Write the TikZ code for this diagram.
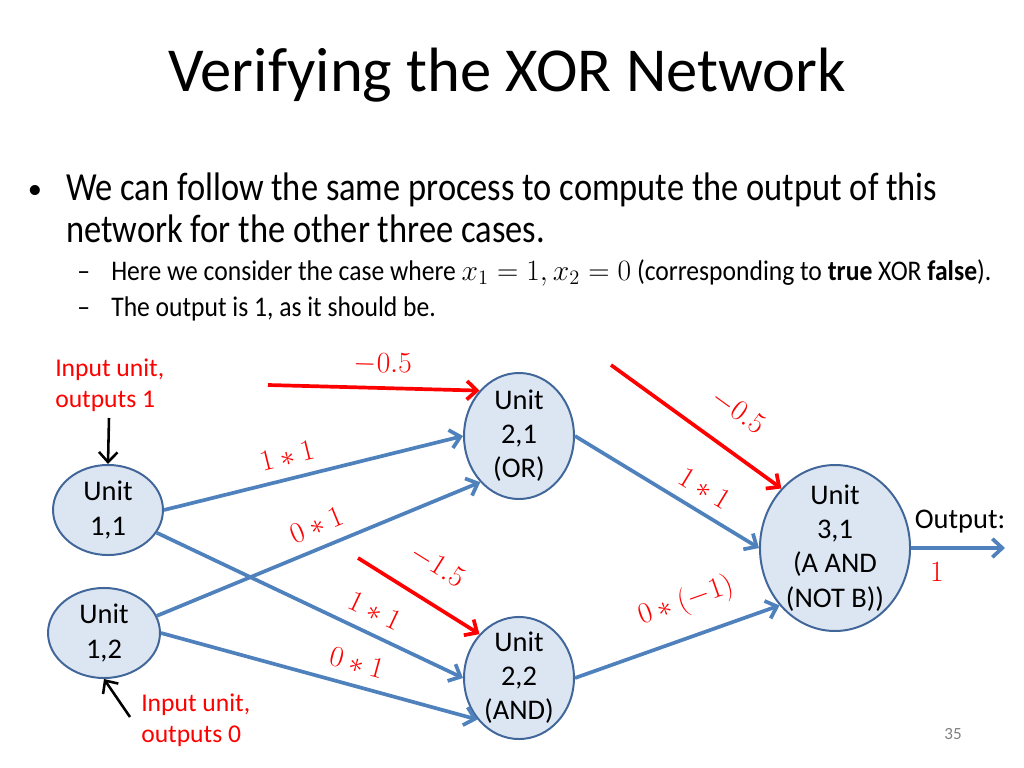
\documentclass[tikz,border=0pt]{standalone}
\usepackage{fontspec}
\setmainfont{Carlito}
\newfontfamily\bodyfont[FakeStretch=0.865]{Carlito}
\newfontfamily\subfont[FakeStretch=0.9]{Carlito}
\usetikzlibrary{arrows.meta,shapes.geometric}
\definecolor{lineblue}{HTML}{4F81BD}
\definecolor{unitfill}{HTML}{DCE6F2}
\definecolor{unitborder}{HTML}{41679A}
\begin{document}
\begin{tikzpicture}[x=0.703pt,y=-0.703pt,>={Straight Barb[length=7pt,width=13pt]},
	unit/.style={ellipse,draw=unitborder,line width=1.4pt,fill=unitfill,inner sep=-8pt,align=center,font=\fontsize{20}{24}\selectfont},
	conn/.style={->,lineblue,line width=2.6pt},
	bias/.style={->,red,line width=2.6pt},
	feed/.style={->,black,line width=1.8pt},
	wlabel/.style={red,sloped,above=6pt,inner sep=2pt,font=\fontsize{20}{24}\selectfont},
	note/.style={red,align=left,inner sep=0pt,font=\fontsize{18}{21.6}\selectfont},
	txt/.style={anchor=base west,inner sep=0pt}]
	\useasboundingbox (0,0) rectangle (1024,768);
	\node (title) at (507,75) {\fontsize{44}{52}\selectfont Verifying the XOR Network};
	\node[txt,anchor=base] (bul) at (35,198) {\fontsize{20}{24}\selectfont •};
	\node[txt] (b1) at (66,200) {\fontsize{28}{34}\bodyfont We can follow the same process to compute the output of this};
	\node[txt] (b2) at (66,242) {\fontsize{28}{34}\bodyfont network for the other three cases.};
	\node[txt] (d1) at (77,280) {\fontsize{20}{24}\subfont –};
	\node[txt] (s1) at (111,280) {\fontsize{20}{24}\subfont Here we consider the case where $x_1=1, x_2=0$ (corresponding to \textbf{true} XOR \textbf{false}).};
	\node[txt] (d2) at (77,316) {\fontsize{20}{24}\subfont –};
	\node[txt] (s2) at (111,316) {\fontsize{20}{24}\subfont The output is 1, as it should be.};

	\node[unit,minimum width=77.3pt,minimum height=63.3pt] (u11) at (108,510) {Unit\\1,1};
	\node[unit,minimum width=78.7pt,minimum height=63.3pt] (u12) at (104,633) {Unit\\1,2};
	\node[unit,minimum width=77.3pt,minimum height=88.6pt] (u21) at (519,436) {Unit\\2,1\\(OR)};
	\node[unit,minimum width=77.3pt,minimum height=85.8pt] (u22) at (519,678) {Unit\\2,2\\(AND)};
	\node[unit,minimum width=105.5pt,minimum height=116.7pt] (u31) at (835,548) {Unit\\3,1\\(A AND\\(NOT B))};

	\node[note,anchor=north west] (in1) at (55,359) {Input unit,\\outputs 1};
	\node[note,anchor=north west] (in2) at (141,694) {Input unit,\\outputs 0};
	\coordinate (f11) at (109,418);
	\coordinate (f12) at (130,717);
	\draw[feed] (f11) -- (u11.north);
	\draw[feed] (f12) -- (u12.south);

	\coordinate (b21) at (268,385);
	\coordinate (b31) at (611,365);
	\coordinate (b22) at (358,558);
	\draw[bias] (b21) -- (u21.131) node[wlabel,pos=0.54] {$-0.5$};
	\draw[bias] (b31) -- (u31.132) node[wlabel,pos=0.62,above=9pt] {$-0.5$};
	\draw[bias] (b22) -- (u22.132) node[wlabel,pos=0.5,above=8pt] {$-1.5$};

	\draw[conn] (u11.east) -- (u21.west) node[wlabel,pos=0.43] {$1*1$};
	\draw[conn] (u12.18) -- (u21.230) node[wlabel,pos=0.52] {$0*1$};
	\draw[conn] (u11.-25) -- (u22.west) node[wlabel,pos=0.68] {$1*1$};
	\draw[conn] (u12.east) -- (u22.225) node[wlabel,pos=0.6] {$0*1$};
	\draw[conn] (u21.east) -- (u31.west) node[wlabel,pos=0.64] {$1*1$};
	\draw[conn] (u22.east) -- (u31.226) node[wlabel,pos=0.6,above=5pt] {$0*(-1)$};

	\coordinate (out) at (1005,548);
	\draw[conn] (u31.east) -- (out);
	\node[font=\fontsize{20}{24}\selectfont] (outlab) at (960,522) {Output:};
	\node[red,font=\fontsize{20}{24}\selectfont] (outval) at (937,572) {$1$};
	\node[gray,font=\fontsize{12}{14}\selectfont] (page) at (953,734) {35};
\end{tikzpicture}
\end{document}
